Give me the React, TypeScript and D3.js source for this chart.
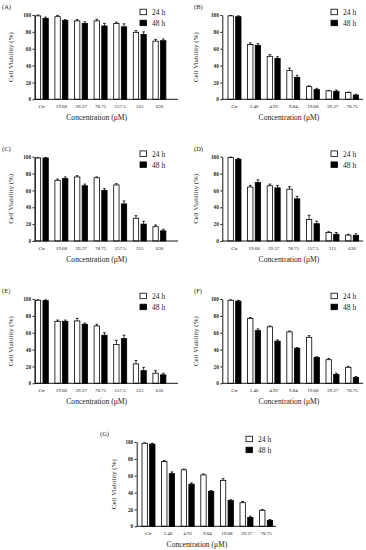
import React, { useEffect, useRef } from "react";
import * as d3 from "d3";

// concentrations (µM)
const concHigh = ["Ctr", "19.68", "39.37", "78.75", "157.5", "315", "630"];
const concLow = ["Ctr", "2.46", "4.92", "9.84", "19.68", "39.37", "78.75"];
const seriesNames = ["24 h", "48 h"];
const yTicks = [0, 20, 40, 60, 80, 100];

// cell viability (%) and SD
const a24 = [99, 98, 93, 93, 90, 79.5, 69];
const a24Sd = [1, 1.5, 1.5, 2, 1.5, 2, 2];
const a48 = [96, 93.5, 90, 87, 86, 77, 69.5];
const a48Sd = [1.5, 1, 2, 3, 3.5, 3, 2];

const b24 = [99, 65, 51, 34, 15, 10, 8];
const b24Sd = [0.5, 2, 2, 3, 1, 0.5, 0.5];
const b48 = [98, 64, 48.5, 26, 11.5, 9.5, 5];
const b48Sd = [1, 2, 2, 2.5, 1.5, 1.5, 1];

const c24 = [98.5, 72, 76, 75, 66.5, 27, 17];
const c24Sd = [0.5, 1.5, 1.5, 1, 1.5, 3, 2];
const c48 = [98.5, 74, 65.5, 60, 44, 20, 12];
const c48Sd = [0.5, 2, 2, 2, 3.5, 3.5, 2];

const d24 = [99, 64, 65.5, 61.5, 25.5, 10, 7];
const d24Sd = [0.5, 2, 2, 3, 5, 1, 1];
const d48 = [97, 69.5, 63, 50, 20.5, 8, 6.5];
const d48Sd = [1, 3, 3, 3, 3, 2, 2];

const e24 = [98.5, 73.5, 74, 68, 46, 23, 12];
const e24Sd = [0.5, 1.5, 3, 2, 5, 4, 3];
const e48 = [98, 73.5, 70, 57, 53, 15, 10];
const e48Sd = [1, 1.5, 1.5, 3, 4, 4, 2];

const f24 = [98.5, 77, 67, 61, 54.5, 28, 19];
const f24Sd = [0.5, 1, 1, 1, 2, 1.5, 1];
const f48 = [97.5, 62.5, 50, 41.5, 30.5, 10.5, 7];
const f48Sd = [1, 2, 1.5, 1, 1, 1.5, 1];

const g24 = [98.5, 77, 67, 61, 54.5, 28, 19];
const g24Sd = [0.5, 1, 1, 1, 2, 1.5, 1];
const g48 = [97.5, 62.5, 50, 41.5, 30.5, 10.5, 7];
const g48Sd = [1, 2, 1.5, 1, 1, 1.5, 1];

type Panel = {
  tag: string;
  cats: string[];
  v24: number[];
  sd24: number[];
  v48: number[];
  sd48: number[];
  row: number;
  col: "left" | "right" | "center";
};

const panels: Panel[] = [
  { tag: "(A)", cats: concHigh, v24: a24, sd24: a24Sd, v48: a48, sd48: a48Sd, row: 0, col: "left" },
  { tag: "(B)", cats: concLow, v24: b24, sd24: b24Sd, v48: b48, sd48: b48Sd, row: 0, col: "right" },
  { tag: "(C)", cats: concHigh, v24: c24, sd24: c24Sd, v48: c48, sd48: c48Sd, row: 1, col: "left" },
  { tag: "(D)", cats: concHigh, v24: d24, sd24: d24Sd, v48: d48, sd48: d48Sd, row: 1, col: "right" },
  { tag: "(E)", cats: concHigh, v24: e24, sd24: e24Sd, v48: e48, sd48: e48Sd, row: 2, col: "left" },
  { tag: "(F)", cats: concLow, v24: f24, sd24: f24Sd, v48: f48, sd48: f48Sd, row: 2, col: "right" },
  { tag: "(G)", cats: concLow, v24: g24, sd24: g24Sd, v48: g48, sd48: g48Sd, row: 3, col: "center" },
];

const layouts = {
  left: { axisX: 34.5, axisEnd: 178, first: 41.8, legendX: 140, tagX: 2, yTitleX: 12.5, xTitleX: 96.7 },
  right: { axisX: 222.3, axisEnd: 363, first: 234.5, legendX: 331, tagX: 194, yTitleX: 198, xTitleX: 289 },
  center: { axisX: 136.7, axisEnd: 276, first: 148.5, legendX: 246, tagX: 100, yTitleX: 115.5, xTitleX: 197 },
};
const rowTops = [15, 156.7, 299, 442];
const plotH = 84.3;
const step = 19.6;
const groupW = 13;

const FONT = "'Liberation Serif', 'DejaVu Serif', serif";

const App: React.FC = () => {
  const svgRef = useRef<SVGSVGElement | null>(null);

  useEffect(() => {
    const svg = d3.select(svgRef.current);
    svg.selectAll("*").remove();

    panels.forEach((p) => {
      const L = layouts[p.col];
      const top = rowTops[p.row];
      const bottom = top + plotH;
      const g = svg.append("g").style("font-family", FONT);

      const y = d3.scaleLinear().domain([0, 100]).range([bottom, top]);
      const pad = 1 - groupW / step;
      const r0 = L.first - groupW / 2;
      const x0 = d3
        .scaleBand<string>()
        .domain(p.cats)
        .range([r0, r0 + step * (p.cats.length - pad)])
        .paddingInner(pad)
        .paddingOuter(0);
      const x1 = d3
        .scaleBand<string>()
        .domain(seriesNames)
        .range([0, x0.bandwidth()])
        .paddingInner(0.3);

      const rows = p.cats.flatMap((c, i) => [
        { cat: c, s: "24 h", v: p.v24[i], sd: p.sd24[i] },
        { cat: c, s: "48 h", v: p.v48[i], sd: p.sd48[i] },
      ]);

      // error bars (drawn first so bars sit over the lower part)
      const eb = g.append("g").attr("stroke", "#000").attr("stroke-width", 0.8);
      rows.forEach((d) => {
        const cx = (x0(d.cat) ?? 0) + (x1(d.s) ?? 0) + x1.bandwidth() / 2;
        eb.append("line").attr("x1", cx).attr("x2", cx).attr("y1", y(d.v)).attr("y2", y(d.v + d.sd));
        eb.append("line")
          .attr("x1", cx - 1.4)
          .attr("x2", cx + 1.4)
          .attr("y1", y(d.v + d.sd))
          .attr("y2", y(d.v + d.sd));
      });

      g.append("g")
        .selectAll("rect")
        .data(rows)
        .join("rect")
        .attr("x", (d) => (x0(d.cat) ?? 0) + (x1(d.s) ?? 0))
        .attr("y", (d) => y(d.v))
        .attr("width", x1.bandwidth())
        .attr("height", (d) => bottom - y(d.v))
        .attr("fill", (d) => (d.s === "24 h" ? "#fff" : "#000"))
        .attr("stroke", "#000")
        .attr("stroke-width", 0.8);

      // y axis
      const ya = g
        .append("g")
        .attr("transform", `translate(${L.axisX},0)`)
        .call(d3.axisLeft(y).tickValues(yTicks).tickSize(2).tickSizeOuter(0).tickPadding(1.5));
      ya.select(".domain").attr("stroke", "#000").attr("stroke-width", 0.9);
      ya.selectAll(".tick line").attr("stroke", "#000").attr("stroke-width", 0.9);
      ya.selectAll(".tick text")
        .style("font-family", FONT)
        .style("font-size", "5.2px")
        .style("font-weight", "bold")
        .attr("fill", "#222");

      // x axis line
      g.append("line")
        .attr("x1", L.axisX)
        .attr("x2", L.axisEnd)
        .attr("y1", bottom)
        .attr("y2", bottom)
        .attr("stroke", "#000")
        .attr("stroke-width", 0.9);

      g.append("g")
        .selectAll("text")
        .data(p.cats)
        .join("text")
        .attr("x", (c) => (x0(c) ?? 0) + x0.bandwidth() / 2)
        .attr("y", bottom + 8.5)
        .attr("text-anchor", "middle")
        .style("font-size", "5px")
        .attr("fill", "#222")
        .text((c) => c);

      g.append("text")
        .attr("x", L.xTitleX)
        .attr("y", bottom + 21)
        .attr("text-anchor", "middle")
        .style("font-size", "7.6px")
        .attr("fill", "#222")
        .text("Concentration (μM)");

      g.append("text")
        .attr("transform", `translate(${L.yTitleX},${(top + bottom) / 2}) rotate(-90)`)
        .attr("text-anchor", "middle")
        .style("font-size", "7px")
        .attr("fill", "#222")
        .text("Cell Viability (%)");

      g.append("text")
        .attr("x", L.tagX)
        .attr("y", top - 6)
        .style("font-size", "6.5px")
        .attr("fill", "#222")
        .text(p.tag);

      // legend
      seriesNames.forEach((s, i) => {
        const ly = top - 5.8 + i * 11;
        g.append("rect")
          .attr("x", L.legendX)
          .attr("y", ly)
          .attr("width", 6.5)
          .attr("height", 5.5)
          .attr("fill", i === 0 ? "#fff" : "#000")
          .attr("stroke", "#000")
          .attr("stroke-width", 0.8);
        g.append("text")
          .attr("x", L.legendX + 12)
          .attr("y", ly + 5.6)
          .style("font-size", "7.5px")
          .attr("fill", "#222")
          .text(s);
      });
    });
  }, []);

  return (
    <svg
      ref={svgRef}
      width={366}
      height={550}
      style={{ position: "absolute", left: 0, top: 0, background: "#fff" }}
    />
  );
};

export default App;
